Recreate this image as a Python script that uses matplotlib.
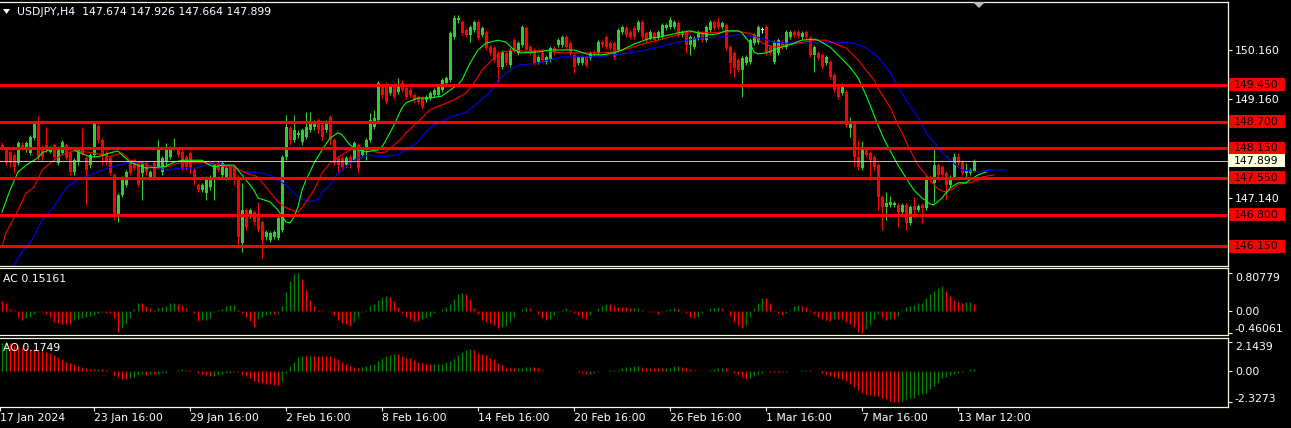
import numpy as np
import matplotlib
matplotlib.use("Agg")
import matplotlib.pyplot as plt
from matplotlib.patches import Rectangle, Polygon
from matplotlib.transforms import blended_transform_factory, ScaledTranslation

# USDJPY H4 candles (bar 0 = 17 Jan 2024)
opens = np.array([
    148.22, 148.12, 148.08, 148.02, 147.85, 148.22, 148.12, 148.06, 148.36, 148.65,
    148.16, 148.22, 148.08, 148.22, 147.85, 148.06, 148.22, 148.08, 147.67, 147.87,
    148.12, 147.96, 147.81, 148.02, 148.61, 148.32, 148.06, 147.96, 147.61, 146.79,
    147.20, 147.40, 147.87, 147.91, 147.85, 147.65, 147.85, 147.55, 147.85, 147.77,
    147.67, 147.87, 147.98, 148.16, 148.12, 148.08, 147.98, 148.06, 147.71, 147.40,
    147.30, 147.24, 147.36, 147.55, 147.85, 147.61, 147.55, 147.77, 147.77, 147.57,
    146.22, 146.89, 146.79, 146.85, 146.83, 146.65, 146.34, 146.28, 146.34, 146.32,
    146.49, 147.98, 148.57, 148.32, 148.43, 148.28, 148.38, 148.53, 148.59, 148.73,
    148.63, 148.53, 148.79, 148.32, 147.96, 147.96, 147.81, 147.98, 147.91, 148.22,
    148.02, 148.12, 148.32, 148.59, 148.73, 149.45, 149.40, 149.28, 149.45, 149.30,
    149.49, 149.38, 149.34, 149.24, 149.20, 149.18, 149.14, 149.18, 149.24, 149.24,
    149.34, 149.49, 149.55, 150.42, 150.77, 150.73, 150.57, 150.47, 150.57, 150.73,
    150.47, 150.53, 150.22, 150.20, 150.10, 149.81, 150.10, 149.85, 150.36, 150.10,
    150.26, 150.61, 150.22, 150.16, 149.91, 150.10, 149.91, 149.96, 150.20, 150.26,
    150.26, 150.42, 150.30, 150.06, 149.89, 149.89, 150.02, 150.00, 150.12, 150.10,
    150.32, 150.42, 150.30, 150.30, 150.16, 150.53, 150.61, 150.53, 150.61, 150.57,
    150.73, 150.51, 150.40, 150.51, 150.40, 150.42, 150.61, 150.63, 150.63, 150.71,
    150.47, 150.53, 150.26, 150.22, 150.40, 150.51, 150.36, 150.57, 150.73, 150.73,
    150.63, 150.67, 150.22, 150.10, 149.96, 149.75, 149.89, 149.91, 150.30, 150.32,
    150.57, 150.63, 150.22, 149.91, 150.10, 150.32, 150.22, 150.42, 150.53, 150.53,
    150.42, 150.53, 150.40, 150.06, 150.10, 150.06, 149.89, 149.91, 149.65, 149.45,
    149.28, 149.30, 148.57, 148.67, 147.98, 147.75, 148.12, 148.06, 147.98, 147.81,
    147.16, 146.96, 147.00, 147.00, 147.00, 146.85, 147.00, 146.63, 146.98, 146.89,
    147.00, 146.94, 147.57, 147.45, 147.81, 147.77, 147.65, 147.40, 147.57, 147.98,
    147.87, 147.65, 147.65, 147.674])
highs = np.array([
    148.28, 148.16, 148.12, 148.06, 148.30, 148.28, 148.30, 148.43, 148.69, 148.81,
    148.22, 148.59, 148.20, 148.26, 148.16, 148.32, 148.26, 148.12, 147.96, 148.16,
    148.57, 148.00, 148.06, 148.71, 148.65, 148.36, 148.12, 148.00, 147.65, 147.24,
    147.59, 147.71, 147.91, 147.96, 147.89, 147.89, 147.89, 147.71, 147.89, 148.32,
    148.00, 148.26, 148.20, 148.36, 148.16, 148.12, 148.02, 148.10, 147.75, 147.45,
    147.45, 147.59, 147.61, 147.85, 147.89, 147.89, 147.79, 147.81, 147.81, 147.61,
    147.45, 146.94, 146.94, 146.89, 147.06, 146.69, 146.49, 146.47, 146.49, 146.77,
    148.02, 148.83, 148.61, 148.83, 148.53, 148.57, 148.89, 148.89, 148.73, 148.77,
    148.67, 148.73, 148.83, 148.36, 148.00, 148.00, 148.00, 148.02, 148.30, 148.26,
    148.16, 148.36, 148.87, 148.94, 149.53, 149.49, 149.51, 149.45, 149.49, 149.59,
    149.55, 149.42, 149.38, 149.28, 149.24, 149.22, 149.24, 149.32, 149.38, 149.45,
    149.59, 149.63, 150.55, 150.87, 150.87, 150.77, 150.61, 150.67, 150.77, 150.77,
    150.65, 150.57, 150.26, 150.24, 150.14, 150.16, 150.14, 150.20, 150.40, 150.34,
    150.67, 150.65, 150.26, 150.20, 150.06, 150.14, 150.06, 150.24, 150.24, 150.40,
    150.47, 150.47, 150.34, 150.10, 150.06, 150.06, 150.06, 150.14, 150.16, 150.36,
    150.36, 150.47, 150.34, 150.34, 150.61, 150.67, 150.65, 150.57, 150.65, 150.77,
    150.77, 150.55, 150.57, 150.55, 150.57, 150.71, 150.71, 150.83, 150.77, 150.75,
    150.57, 150.57, 150.47, 150.45, 150.57, 150.55, 150.67, 150.77, 150.77, 150.83,
    150.75, 150.71, 150.26, 150.14, 150.00, 150.04, 150.06, 150.40, 150.51, 150.67,
    150.63, 150.67, 150.26, 150.36, 150.40, 150.36, 150.57, 150.57, 150.57, 150.57,
    150.55, 150.57, 150.45, 150.26, 150.14, 150.10, 150.06, 149.96, 149.69, 149.49,
    149.49, 149.34, 148.79, 148.71, 148.32, 148.30, 148.16, 148.10, 148.02, 147.85,
    147.20, 147.26, 147.18, 147.08, 147.04, 147.04, 147.04, 147.00, 147.16, 147.02,
    147.04, 147.61, 147.61, 148.18, 147.85, 147.81, 147.69, 147.61, 148.06, 148.06,
    147.91, 147.85, 147.75, 147.926])
lows = np.array([
    148.12, 147.81, 147.77, 147.65, 147.81, 148.12, 148.08, 148.02, 148.32, 147.91,
    147.91, 148.08, 148.06, 147.91, 147.81, 148.02, 147.91, 147.61, 147.61, 147.81,
    148.02, 147.00, 147.75, 147.98, 148.26, 147.81, 147.81, 147.61, 146.69, 146.65,
    147.16, 147.36, 147.61, 147.71, 147.36, 147.10, 147.61, 147.51, 147.51, 147.73,
    147.61, 147.81, 147.94, 148.12, 147.98, 147.71, 147.71, 147.65, 147.40, 147.26,
    147.26, 147.10, 147.30, 147.10, 147.67, 147.57, 147.51, 147.53, 147.40, 146.12,
    146.04, 146.49, 146.73, 146.59, 146.45, 145.91, 146.28, 146.24, 146.30, 146.28,
    146.45, 147.91, 148.22, 148.28, 148.36, 148.22, 148.34, 148.49, 148.53, 148.47,
    148.32, 148.49, 148.22, 147.81, 147.67, 147.71, 147.77, 147.75, 147.87, 147.65,
    147.98, 147.91, 148.28, 148.55, 148.69, 149.18, 149.06, 149.24, 149.16, 149.26,
    149.30, 149.16, 149.20, 149.08, 149.06, 148.96, 149.10, 149.14, 149.20, 149.20,
    149.30, 149.45, 149.51, 150.38, 150.71, 150.47, 150.42, 150.32, 150.53, 150.36,
    150.42, 150.16, 150.06, 149.91, 149.51, 149.77, 149.85, 149.81, 150.12, 150.06,
    150.22, 150.12, 150.06, 149.85, 149.87, 149.91, 149.87, 149.91, 150.06, 150.22,
    150.22, 150.18, 150.06, 149.69, 149.85, 149.85, 149.81, 149.96, 150.02, 150.06,
    150.22, 150.18, 150.16, 149.98, 150.12, 150.49, 150.42, 150.38, 150.38, 150.53,
    150.38, 150.32, 150.36, 150.32, 150.36, 150.38, 150.57, 150.59, 150.59, 150.42,
    150.42, 150.10, 150.06, 150.18, 150.36, 150.32, 150.32, 150.53, 150.57, 150.59,
    150.59, 150.16, 149.69, 149.61, 149.71, 149.20, 149.85, 149.87, 150.26, 150.28,
    150.51, 150.06, 150.06, 149.87, 150.06, 150.18, 150.18, 150.38, 150.42, 150.40,
    150.38, 150.38, 150.02, 149.71, 149.96, 149.77, 149.85, 149.57, 149.30, 149.16,
    149.24, 148.59, 148.38, 147.79, 147.71, 147.71, 147.98, 147.51, 147.71, 146.89,
    146.49, 146.69, 146.96, 146.96, 146.55, 146.81, 146.49, 146.59, 146.73, 146.85,
    146.63, 146.89, 147.47, 147.06, 147.57, 147.57, 147.10, 147.36, 147.53, 147.81,
    147.61, 147.55, 147.61, 147.664])
closes = np.array([
    148.16, 147.85, 147.85, 147.77, 148.26, 148.16, 148.26, 148.38, 148.65, 147.98,
    147.98, 148.12, 148.16, 147.98, 148.12, 148.28, 147.96, 147.67, 147.91, 148.12,
    148.06, 147.71, 148.02, 148.67, 148.32, 148.02, 147.87, 147.65, 146.75, 147.20,
    147.55, 147.67, 147.65, 147.75, 147.40, 147.85, 147.67, 147.67, 147.57, 148.12,
    147.96, 148.12, 148.16, 148.18, 148.02, 147.75, 147.77, 147.75, 147.51, 147.30,
    147.40, 147.55, 147.57, 147.81, 147.71, 147.85, 147.75, 147.57, 147.51, 146.34,
    146.89, 146.55, 146.89, 146.65, 146.49, 146.28, 146.45, 146.43, 146.45, 146.73,
    147.98, 148.59, 148.32, 148.53, 148.47, 148.53, 148.59, 148.69, 148.69, 148.53,
    148.38, 148.69, 148.32, 147.85, 147.81, 147.77, 147.96, 147.85, 148.26, 147.75,
    148.12, 148.32, 148.73, 148.77, 149.49, 149.24, 149.10, 149.40, 149.20, 149.45,
    149.34, 149.20, 149.24, 149.14, 149.10, 149.00, 149.20, 149.28, 149.34, 149.40,
    149.55, 149.59, 150.51, 150.81, 150.81, 150.51, 150.47, 150.63, 150.73, 150.40,
    150.61, 150.20, 150.10, 149.96, 149.81, 150.12, 149.89, 150.16, 150.16, 150.30,
    150.63, 150.16, 150.10, 149.89, 150.02, 149.96, 150.02, 150.20, 150.10, 150.36,
    150.42, 150.22, 150.10, 149.81, 150.02, 150.02, 149.85, 150.10, 150.06, 150.32,
    150.26, 150.22, 150.20, 150.02, 150.57, 150.63, 150.47, 150.42, 150.42, 150.73,
    150.42, 150.36, 150.53, 150.36, 150.53, 150.67, 150.67, 150.77, 150.73, 150.47,
    150.53, 150.26, 150.42, 150.40, 150.53, 150.36, 150.63, 150.73, 150.61, 150.63,
    150.71, 150.20, 149.89, 149.79, 149.75, 150.00, 150.02, 150.36, 150.47, 150.63,
    150.57, 150.10, 150.10, 150.32, 150.36, 150.22, 150.53, 150.53, 150.47, 150.45,
    150.51, 150.42, 150.06, 150.22, 150.00, 149.81, 150.02, 149.61, 149.34, 149.20,
    149.45, 148.63, 148.69, 147.98, 147.77, 148.12, 148.02, 147.91, 147.77, 147.16,
    146.96, 147.04, 147.06, 147.04, 146.85, 147.00, 146.63, 146.96, 146.89, 146.98,
    146.94, 147.51, 147.51, 147.81, 147.61, 147.61, 147.40, 147.57, 147.98, 147.85,
    147.65, 147.69, 147.71, 147.899])

# Alligator lines (bar index, price), already shifted as drawn
jaw = [(2, 145.63), (5, 146.04), (8, 146.34), (10, 146.69), (13, 146.96), (16, 147.34),
       (19, 147.51), (22, 147.61), (25, 147.71), (29, 147.81), (32, 147.87), (35, 147.85),
       (39, 147.75), (41, 147.71), (45, 147.75), (48, 147.75), (51, 147.81), (54, 147.85),
       (58, 147.77), (61, 147.67), (65, 147.65), (68, 147.57), (71, 147.40), (74, 147.16),
       (77, 147.06), (79, 147.10), (80, 147.26), (82, 147.40), (84, 147.65), (87, 147.85),
       (89, 147.96), (92, 148.02), (95, 147.98), (99, 148.02), (101, 148.12), (104, 148.28),
       (106, 148.49), (108, 148.63), (112, 148.79), (116, 148.89), (119, 149.08), (122, 149.30),
       (124, 149.55), (127, 149.75), (129, 149.85), (134, 149.89), (137, 149.96), (140, 150.02),
       (145, 150.02), (149, 150.02), (153, 150.06), (157, 150.10), (161, 150.16), (164, 150.22),
       (169, 150.32), (174, 150.40), (179, 150.42), (184, 150.47), (189, 150.42), (193, 150.32),
       (196, 150.30), (200, 150.30), (205, 150.30), (209, 150.32), (213, 150.30), (216, 150.20),
       (219, 150.02), (222, 149.71), (224, 149.40), (226, 149.14), (229, 148.79), (231, 148.47),
       (233, 148.28), (235, 148.06), (238, 147.85), (240, 147.71), (244, 147.67), (247, 147.71),
       (251, 147.71)]
teeth = [(0, 146.14), (1, 146.43), (4, 146.89), (6, 147.24), (8, 147.36), (10, 147.71),
         (13, 147.91), (15, 148.02), (18, 148.10), (21, 148.08), (24, 148.04), (27, 147.98),
         (30, 148.06), (32, 147.91), (35, 147.85), (38, 147.75), (41, 147.77), (44, 147.85),
         (47, 147.87), (50, 147.87), (52, 147.85), (55, 147.79), (58, 147.77), (61, 147.65),
         (64, 147.57), (66, 147.36), (69, 147.06), (71, 146.94), (74, 146.85), (75, 146.94),
         (78, 147.30), (80, 147.65), (82, 147.85), (85, 148.02), (87, 148.12), (91, 148.16),
         (94, 148.06), (96, 148.08), (98, 148.22), (100, 148.36), (101, 148.47), (104, 148.69),
         (107, 148.94), (110, 149.04), (113, 149.14), (116, 149.28), (118, 149.49), (120, 149.75),
         (123, 150.00), (125, 150.12), (128, 150.16), (132, 150.12), (135, 150.16), (140, 150.10),
         (145, 150.10), (150, 150.10), (153, 150.12), (157, 150.20), (161, 150.30), (164, 150.36),
         (169, 150.47), (172, 150.53), (177, 150.51), (181, 150.53), (184, 150.55), (188, 150.47),
         (190, 150.30), (193, 150.22), (196, 150.26), (199, 150.30), (203, 150.36), (206, 150.36),
         (208, 150.30), (211, 150.20), (214, 149.96), (216, 149.75), (218, 149.55), (219, 149.38),
         (222, 149.00), (224, 148.63), (225, 148.47), (227, 148.12), (229, 147.81), (232, 147.51),
         (234, 147.32), (236, 147.26), (238, 147.34), (239, 147.42), (242, 147.45), (244, 147.51),
         (245, 147.57), (248, 147.61)]
lips = [(0, 146.85), (2, 147.30), (4, 147.67), (6, 147.81), (9, 147.96), (10, 148.06),
        (13, 148.16), (15, 148.18), (17, 148.16), (19, 148.08), (22, 147.98), (24, 147.98),
        (27, 148.06), (29, 148.10), (30, 148.02), (32, 147.87), (34, 147.81), (36, 147.75),
        (39, 147.77), (41, 147.79), (43, 147.87), (45, 147.91), (47, 147.91), (50, 147.91),
        (51, 147.85), (53, 147.77), (55, 147.81), (58, 147.81), (59, 147.71), (61, 147.51),
        (63, 147.30), (64, 147.14), (67, 147.06), (69, 146.89), (71, 146.65), (72, 146.63),
        (73, 146.75), (74, 146.96), (75, 147.30), (76, 147.51), (77, 147.67), (78, 147.85),
        (80, 148.12), (82, 148.36), (84, 148.47), (85, 148.43), (87, 148.22), (89, 148.12),
        (91, 148.08), (94, 148.12), (95, 148.18), (97, 148.47), (98, 148.63), (100, 148.98),
        (101, 149.08), (104, 149.18), (107, 149.18), (110, 149.22), (112, 149.34), (114, 149.45),
        (115, 149.55), (117, 149.89), (119, 150.16), (121, 150.30), (124, 150.36), (126, 150.32),
        (128, 150.16), (130, 150.10), (134, 150.12), (137, 150.16), (140, 150.16), (143, 150.16),
        (147, 150.06), (150, 150.06), (153, 150.10), (155, 150.16), (158, 150.28), (162, 150.40),
        (164, 150.42), (167, 150.47), (169, 150.51), (172, 150.55), (174, 150.51), (177, 150.47),
        (179, 150.49), (181, 150.55), (184, 150.55), (185, 150.51), (187, 150.30), (188, 150.12),
        (189, 150.08), (191, 150.10), (193, 150.16), (195, 150.22), (198, 150.30), (200, 150.36),
        (203, 150.38), (204, 150.36), (207, 150.22), (209, 150.06), (212, 149.81), (214, 149.59),
        (216, 149.24), (217, 149.04), (218, 148.83), (219, 148.63), (220, 148.43), (221, 148.26),
        (223, 147.96), (224, 147.81), (226, 147.55), (228, 147.30), (230, 147.14), (232, 147.02),
        (233, 147.00), (235, 147.14), (237, 147.34), (239, 147.45), (241, 147.45), (242, 147.51),
        (244, 147.61), (246, 147.67)]

# Accelerator (AC) and Awesome (AO) oscillators
ac = np.array([
    0.213, 0.164, 0.043, 0.021, -0.121, -0.191, -0.155, -0.121, -0.064, -0.011,
    -0.021, -0.064, -0.121, -0.228, -0.255, -0.277, -0.284, -0.287, -0.191, -0.170,
    -0.149, -0.138, -0.106, -0.085, -0.043, -0.021, -0.032, -0.043, -0.155, -0.440,
    -0.368, -0.283, -0.155, 0.049, 0.164, 0.160, 0.113, 0.057, 0.021, 0.064,
    0.091, 0.106, 0.164, 0.170, 0.149, 0.128, 0.064, 0.004, -0.043, -0.213,
    -0.202, -0.191, -0.149, -0.021, 0.021, 0.043, 0.106, 0.128, 0.134, 0.021,
    -0.043, -0.128, -0.213, -0.334, -0.170, -0.128, -0.085, -0.064, -0.074, -0.043,
    0.106, 0.404, 0.638, 0.787, 0.808, 0.681, 0.447, 0.234, 0.106, 0.021,
    0.011, 0.002, -0.011, -0.085, -0.191, -0.262, -0.283, -0.313, -0.228, -0.121,
    -0.021, 0.028, 0.113, 0.143, 0.234, 0.305, 0.326, 0.292, 0.213, 0.092,
    -0.049, -0.121, -0.170, -0.206, -0.209, -0.177, -0.155, -0.100, -0.049, 0.006,
    0.036, 0.092, 0.143, 0.255, 0.355, 0.377, 0.355, 0.255, 0.057, -0.070,
    -0.191, -0.228, -0.262, -0.298, -0.355, -0.351, -0.313, -0.228, -0.121, 0.004,
    0.043, 0.092, 0.057, 0.006, -0.070, -0.155, -0.191, -0.170, -0.085, -0.015,
    0.021, 0.070, 0.021, -0.036, -0.085, -0.155, -0.170, -0.085, -0.005, 0.070,
    0.113, 0.149, 0.145, 0.106, 0.092, 0.085, 0.081, 0.057, 0.070, 0.072,
    0.021, 0.010, -0.015, -0.028, -0.057, -0.021, 0.011, 0.036, 0.070, 0.043,
    0.006, -0.036, -0.121, -0.143, -0.121, -0.049, 0.008, 0.070, 0.072, 0.092,
    0.070, 0.006, -0.100, -0.228, -0.298, -0.368, -0.298, -0.121, 0.057, 0.164,
    0.283, 0.281, 0.164, 0.021, -0.036, -0.085, -0.036, 0.021, 0.106, 0.128,
    0.106, 0.092, 0.021, -0.070, -0.121, -0.170, -0.191, -0.213, -0.170, -0.172,
    -0.174, -0.228, -0.283, -0.334, -0.450, -0.461, -0.383, -0.298, -0.170, -0.070,
    -0.121, -0.191, -0.170, -0.172, -0.100, 0.021, 0.079, 0.106, 0.128, 0.177,
    0.179, 0.283, 0.355, 0.426, 0.496, 0.532, 0.426, 0.319, 0.234, 0.198,
    0.177, 0.198, 0.200, 0.15161])
ao = np.array([
    2.112, 2.144, 2.067, 1.940, 1.866, 1.769, 1.694, 1.619, 1.612, 1.567,
    1.515, 1.440, 1.366, 1.194, 1.022, 0.873, 0.694, 0.574, 0.500, 0.373,
    0.276, 0.201, 0.172, 0.164, 0.179, 0.127, 0.090, 0.037, -0.298, -0.470,
    -0.597, -0.604, -0.545, -0.425, -0.298, -0.224, -0.298, -0.246, -0.261, -0.224,
    -0.172, -0.127, -0.037, 0.037, 0.075, 0.127, 0.097, 0.052, 0.022, -0.127,
    -0.187, -0.298, -0.373, -0.351, -0.298, -0.246, -0.172, -0.127, -0.075, -0.097,
    -0.224, -0.373, -0.522, -0.746, -0.821, -0.918, -0.970, -0.992, -1.022, -1.045,
    -0.746, -0.149, 0.373, 0.694, 1.045, 1.119, 1.104, 1.125, 1.112, 1.105,
    1.100, 1.095, 1.090, 0.992, 0.873, 0.672, 0.500, 0.373, 0.298, 0.246,
    0.298, 0.373, 0.448, 0.545, 0.746, 0.948, 1.097, 1.194, 1.246, 1.239,
    1.119, 0.992, 0.948, 0.798, 0.672, 0.597, 0.500, 0.492, 0.500, 0.522,
    0.545, 0.694, 0.746, 0.948, 1.194, 1.418, 1.545, 1.619, 1.545, 1.366,
    1.246, 1.172, 0.992, 0.873, 0.574, 0.425, 0.246, 0.201, 0.194, 0.246,
    0.254, 0.321, 0.328, 0.321, 0.201, 0.097, 0.022, 0.007, 0.015, 0.007,
    0.003, 0.037, 0.022, 0.007, -0.052, -0.127, -0.201, -0.187, -0.127, -0.052,
    -0.022, 0.007, 0.052, 0.097, 0.112, 0.201, 0.298, 0.321, 0.351, 0.358,
    0.321, 0.246, 0.224, 0.215, 0.201, 0.195, 0.209, 0.246, 0.351, 0.373,
    0.298, 0.201, 0.127, 0.052, 0.015, -0.022, -0.015, 0.052, 0.127, 0.201,
    0.209, 0.201, -0.010, -0.127, -0.246, -0.448, -0.619, -0.500, -0.373, -0.246,
    -0.127, -0.022, -0.040, -0.052, -0.055, -0.058, -0.045, -0.015, 0.007, 0.015,
    0.052, 0.097, 0.052, 0.015, -0.022, -0.127, -0.246, -0.373, -0.448, -0.522,
    -0.619, -0.746, -0.948, -1.194, -1.418, -1.619, -1.739, -1.813, -1.866, -1.888,
    -1.993, -2.112, -2.239, -2.313, -2.327, -2.239, -2.142, -2.037, -1.993, -1.813,
    -1.739, -1.619, -1.366, -1.119, -0.873, -0.545, -0.448, -0.321, -0.246, -0.127,
    -0.052, 0.037, 0.127, 0.1749])
ac_before = 0.26   # bar just left of the window
ao_before = 2.08

levels = [149.45, 148.70, 148.15, 147.55, 146.80, 146.15]
last_price = 147.899
price_ticks = [150.16, 149.16, 147.14]
date_bars = [-0.5, 23, 47, 71, 95, 119, 143, 167, 191, 215, 239]
date_labels = ["17 Jan 2024", "23 Jan 16:00", "29 Jan 16:00", "2 Feb 16:00",
               "8 Feb 16:00", "14 Feb 16:00", "20 Feb 16:00", "26 Feb 16:00",
               "1 Mar 16:00", "7 Mar 16:00", "13 Mar 12:00"]
title = "USDJPY,H4  147.674 147.926 147.664 147.899"

W, H = 1291, 428
BG = "black"
FRAME = "#f5f5dc"
TXT = "white"
FS = 7.8

plt.rcParams["font.family"] = ["DejaVu Sans"]
plt.rcParams["font.size"] = FS

fig = plt.figure(figsize=(W / 100, H / 100), dpi=100, facecolor=BG)


def panel(top, bottom):
    a = fig.add_axes([0, 1 - bottom / H, 1228 / W, (bottom - top) / H], facecolor=BG)
    a.set_xlim(-0.5, 306.5)
    for sp in a.spines.values():
        sp.set_color(FRAME)
        sp.set_linewidth(0.9)
    a.spines["left"].set_visible(False)
    a.yaxis.tick_right()
    a.tick_params(axis="y", length=3, width=0.8, color=FRAME, labelcolor=TXT,
                  labelsize=FS, pad=2)
    a.tick_params(axis="x", bottom=False, labelbottom=False)
    return a


ax = panel(1.5, 265.5)
ax_ac = panel(267.5, 334.5)
ax_ao = panel(337.5, 406.5)

# candles
x = np.arange(len(closes))
cols = np.where(closes > opens, "#32cd32", np.where(closes < opens, "red", "white"))
ax.vlines(x, lows, highs, colors=cols, lw=0.8, zorder=1)
ax.bar(x, np.maximum(np.abs(closes - opens), 0.02), bottom=np.minimum(opens, closes),
       width=0.75, color=cols, lw=0, zorder=1)

# alligator
for pts, c in ((jaw, "#0000ff"), (teeth, "#ff0000"), (lips, "#00ff00")):
    bx, by = zip(*pts)
    ax.plot(bx, by, color=c, lw=0.8, zorder=2)

for lv in levels:
    ax.axhline(lv, color="red", lw=2.2, zorder=3)
ax.axhline(last_price, color="#c0c0c0", lw=0.75, zorder=3)

ax.set_ylim(145.762, 151.149)
ax.set_yticks(price_ticks, [f"{p:.3f}" for p in price_ticks])

# price tags on the right
tr = blended_transform_factory(fig.transFigure, ax.transData)
box_h = 13 / 49.0


def price_tag(p, fc):
    ax.add_patch(Rectangle((1229 / W, p - box_h / 2), 56 / W, box_h, transform=tr,
                           fc=fc, ec="none", clip_on=False, zorder=5))
    ax.text(1234 / W, p, f"{p:.3f}", transform=tr, color="black", fontsize=FS,
            va="center", ha="left", clip_on=False, zorder=6)


for lv in levels:
    price_tag(lv, "red")
price_tag(last_price, "#ffffe0")

# oscillators
green_osc = "#008000"
ac_cols = np.where(np.diff(ac, prepend=ac_before) > 0, green_osc, "red")
ax_ac.vlines(x, 0, ac, colors=ac_cols, lw=1.0)
ax_ac.set_ylim(-0.500, 0.926)
ax_ac.set_yticks([0.80779, 0.0, -0.46061], ["0.80779", "0.00", "-0.46061"])

ao_cols = np.where(np.diff(ao, prepend=ao_before) > 0, green_osc, "red")
ax_ao.vlines(x, 0, ao, colors=ao_cols, lw=1.0)
ax_ao.set_ylim(-2.649, 2.50)
ax_ao.set_yticks([2.1439, 0.0, -2.3273], ["2.1439", "0.00", "-2.3273"])

# the max/min labels sit a few pixels inside the window
down = ScaledTranslation(0, -3 / 72, fig.dpi_scale_trans)
up = ScaledTranslation(0, 3 / 72, fig.dpi_scale_trans)
for a in (ax_ac, ax_ao):
    labels = a.get_yticklabels()
    labels[0].set_transform(labels[0].get_transform() + down)
    labels[2].set_transform(labels[2].get_transform() + up)

ax_ao.tick_params(axis="x", bottom=True, labelbottom=True, length=3, width=0.8,
                  color=FRAME, labelcolor=TXT, labelsize=FS, pad=2)
ax_ao.set_xticks(date_bars, date_labels)
for lbl in ax_ao.get_xticklabels():
    lbl.set_ha("left")


def px(xp, yp):
    return (xp / W, 1 - yp / H)


fig.add_artist(Polygon([px(3, 9), px(10, 9), px(6.5, 14)], closed=True,
                       transform=fig.transFigure, fc="white", ec="none"))
fig.add_artist(Polygon([px(973, 2), px(985, 2), px(979, 8)], closed=True,
                       transform=fig.transFigure, fc="#c0c0c0", ec="none"))
fig.text(17 / W, 1 - 12 / H, title, color=TXT, fontsize=FS, va="center", ha="left")
fig.text(3 / W, 1 - 279 / H, f"AC {ac[-1]:.5f}", color=TXT, fontsize=FS,
         va="center", ha="left")
fig.text(3 / W, 1 - 348 / H, f"AO {ao[-1]:.4f}", color=TXT, fontsize=FS,
         va="center", ha="left")

fig.savefig("out.png", dpi=100, facecolor=BG)
